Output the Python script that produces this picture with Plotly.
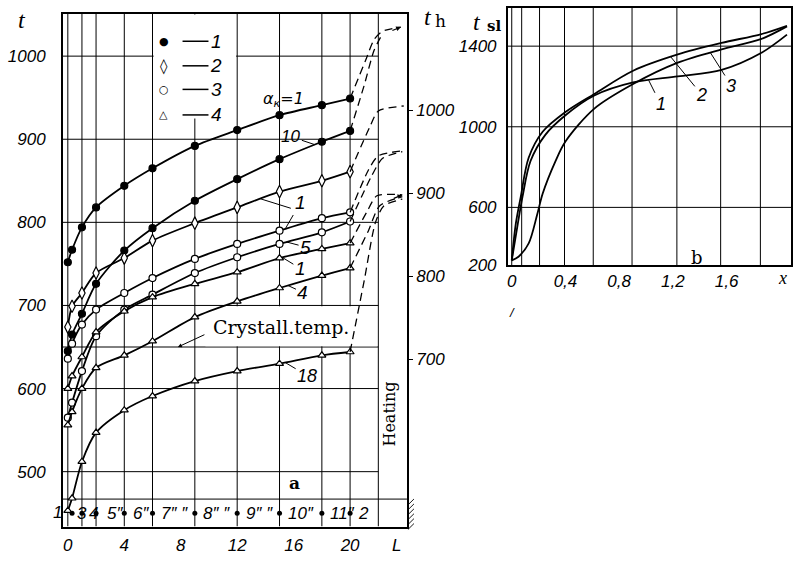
import numpy as np
import plotly.graph_objects as go

W, H = 793, 565
def PX(px): return px / W
def PY(py): return 1 - py / H

# ---------------- Panel a data ----------------
nodes = [0, 0.3, 1, 2, 4, 6, 9, 12, 15, 18, 20]
t_dot_a1 = [752, 767, 794, 818, 844, 865, 892, 911, 929, 941, 949]
t_dot_a10 = [645, 665, 690, 726, 766, 793, 826, 852, 876, 897, 910]
t_dia_a1 = [674, 699, 715, 739, 757, 778, 799, 818, 837, 850, 861]
t_circ_a1 = [636, 654, 677, 695, 715, 733, 756, 774, 790, 805, 812]
t_circ_a5 = [565, 583, 621, 663, 695, 713, 739, 758, 774, 788, 801]
t_tri_a1 = [600, 615, 638, 668, 693, 710, 726, 740, 757, 768, 775]
t_tri_a4 = [556, 572, 600, 625, 640, 657, 686, 705, 721, 736, 745]
t_tri_a18 = [453, 468, 512, 547, 574, 591, 609, 621, 630, 640, 644]

# heating (dashed) lines, in t_h units
heat_x = [[20, 21.1, 21.7, 22.3, 23.6], [20, 21.0, 21.7, 22.3],
          [20, 21.4, 22.0, 23.8], [20, 21.3, 22.0, 23.7],
          [20, 21.5, 22.3, 23.7], [20, 21.2, 21.9, 23.7],
          [20, 21.3, 22.1, 23.7], [20, 21.0, 21.8, 22.4, 23.7]]
heat_t = [[1014, 1060, 1085, 1095, 1100], [975, 1030, 1072, 1092],
          [926, 980, 999, 1005], [877, 928, 945, 951],
          [866, 920, 942, 950], [840, 878, 897, 898],
          [810, 855, 885, 896], [709, 795, 865, 885, 893]]

strip_nodes = [0.3, 1, 2, 4, 6, 9, 12, 15, 18, 20]
strip_labels = ["3", "4", "5″", "6″", "7″ ″", "8″ ″", "9″ ″", "10″", "11″", "2"]
strip_label_x = [0.5, 1.35, 2.6, 4.45, 6.45, 9.45, 12.45, 15.45, 18.4, 20.4]

xa_ticks = [0, 4, 8, 12, 16, 20, 23.3]
xa_text = ["0", "4", "8", "12", "16", "20", "L"]
ya_ticks = [500, 600, 700, 800, 900, 1000]
yh_ticks = [700, 800, 900, 1000]

# ---------------- Panel b data ----------------
xb1 = [0, 0.045, 0.08, 0.14, 0.25, 0.4, 0.615, 0.904, 1.237, 1.563, 1.86, 2.05]
tb1 = [337, 518, 652, 830, 960, 1057, 1155, 1220, 1250, 1282, 1367, 1457]
xb2 = [0, 0.03, 0.067, 0.126, 0.23, 0.4, 0.615, 0.904, 1.237, 1.563, 1.86, 2.05]
tb2 = [337, 518, 652, 846, 975, 1073, 1163, 1278, 1359, 1416, 1460, 1501]
xb3 = [0, 0.05, 0.126, 0.19, 0.23, 0.326, 0.4, 0.615, 0.904, 1.237, 1.563, 1.86, 2.05]
tb3 = [337, 355, 421, 566, 668, 830, 927, 1090, 1212, 1318, 1384, 1436, 1498]
xb_ticks = [0, 0.4, 0.8, 1.2, 1.6]
xb_text = ["0", "0,4", "0,8", "1,2", "1,6"]
yb_ticks = [313, 600, 1000, 1400]
yb_text = ["200", "600", "1000", "1400"]
xb_grid = [0, 0.074, 0.207, 0.393, 0.607, 0.896, 1.23, 1.556, 1.852]

# ---------------- ranges / domains ----------------
XA = [-0.353, 24.03]
YA = [434, 1051]
YH = [YA[0] + 65, YA[1] + 65]
XB = [-0.03, 2.08]
YB = [313, 1590]

fig = go.Figure()
LW = 1.8
black = "black"

def curve(x, y, sym, filled):
    fig.add_trace(go.Scatter(
        x=x, y=y, mode="lines+markers", xaxis="x", yaxis="y",
        line=dict(color=black, width=LW, shape="spline", smoothing=0.8),
        marker=dict(symbol=sym, size=7 if sym != "diamond-tall" else 9,
                    color=black if filled else "white",
                    line=dict(color=black, width=1.2)),
        showlegend=False, hoverinfo="skip"))

curve(nodes, t_dot_a1, "circle", True)
curve(nodes, t_dot_a10, "circle", True)
curve(nodes, t_dia_a1, "diamond-tall", False)
curve(nodes, t_circ_a1, "circle", False)
curve(nodes, t_circ_a5, "circle", False)
curve(nodes, t_tri_a1, "triangle-up", False)
curve(nodes, t_tri_a4, "triangle-up", False)
curve(nodes, t_tri_a18, "triangle-up", False)

for hx, ht in zip(heat_x, heat_t):
    fig.add_trace(go.Scatter(
        x=hx, y=ht, mode="lines", xaxis="x", yaxis="y2",
        line=dict(color=black, width=1.3, dash="8px,5px", shape="spline", smoothing=0.7),
        showlegend=False, hoverinfo="skip"))

# node dots in bottom strip
fig.add_trace(go.Scatter(
    x=strip_nodes, y=[450] * len(strip_nodes), mode="markers", xaxis="x", yaxis="y",
    marker=dict(size=5, color=black), showlegend=False, hoverinfo="skip"))

# panel b curves
for xb, tb in [(xb1, tb1), (xb2, tb2), (xb3, tb3)]:
    fig.add_trace(go.Scatter(
        x=xb, y=tb, mode="lines", xaxis="x2", yaxis="y3",
        line=dict(color=black, width=LW, shape="spline", smoothing=0.9),
        showlegend=False, hoverinfo="skip"))

shapes = []
def hline(x0, x1, y, xref="x", yref="y", w=1.0):
    shapes.append(dict(type="line", x0=x0, x1=x1, y0=y, y1=y, xref=xref, yref=yref,
                       line=dict(color=black, width=w), layer="below"))
def vline(x, y0, y1, xref="x", yref="y", w=1.0):
    shapes.append(dict(type="line", x0=x, x1=x, y0=y0, y1=y1, xref=xref, yref=yref,
                       line=dict(color=black, width=w), layer="below"))

# panel a grid
for gx in [0, 1, 2, 4, 6, 9, 12, 15, 18, 20, 22]:
    vline(gx, YA[0], YA[1])
for gt in [500, 600, 650, 700, 800, 900, 1000]:
    hline(XA[0], 22, gt)
hline(XA[0], XA[1], 467)
# white boxes (legend area, crystallisation label)
shapes.append(dict(type="rect", x0=6.08, x1=11.92, y0=925, y1=YA[1] - 1, xref="x", yref="y",
                   fillcolor="white", line=dict(width=0), layer="below"))
shapes.append(dict(type="rect", x0=9.75, x1=21.92, y0=651, y1=699, xref="x", yref="y",
                   fillcolor="white", line=dict(width=0), layer="below"))
# panel b grid
for gx in xb_grid:
    vline(gx, YB[0], YB[1], "x2", "y3")
for gt in [600, 1000, 1400]:
    hline(XB[0], XB[1], gt, "x2", "y3")

# legend line samples (paper coords)
leg_rows = [42, 67, 91, 117]
for py in leg_rows:
    shapes.append(dict(type="line", x0=PX(182), x1=PX(208), y0=PY(py), y1=PY(py),
                       xref="paper", yref="paper", line=dict(color=black, width=1.5)))
# hatch at support (bottom right)
for k in range(6):
    yy = 508 + k * 5
    shapes.append(dict(type="line", x0=PX(408), x1=PX(414), y0=PY(yy + 6), y1=PY(yy),
                       xref="paper", yref="paper", line=dict(color=black, width=0.9)))

ann = []
def fI(size, fam="Liberation Sans"): return dict(family=fam, size=size, style="italic", color=black)
ital = fI(17)

def note(text, px, py, font, **kw):
    d = dict(text=text, x=PX(px), y=PY(py), xref="paper", yref="paper",
             showarrow=False, font=font, xanchor="center", yanchor="middle")
    d.update(kw)
    ann.append(d)

def leader(text, xv, series_x, series_y, dx, dy, font=ital, xref="x", yref="y"):
    yv = float(np.interp(xv, series_x, series_y))
    ann.append(dict(text=text, x=xv, y=yv, xref=xref, yref=yref, ax=dx, ay=dy,
                    showarrow=True, arrowhead=0, arrowwidth=1, arrowcolor=black,
                    standoff=0, font=font))

# legend glyphs and numbers
for py, g, n in zip(leg_rows, ["●", "◊", "○", "△"], ["1", "2", "3", "4"]):
    note(g, 163, py, dict(family="DejaVu Sans", size=11 if g != "◊" else 15, color=black))
    note(n, 216, py, fI(19))

# curve labels panel a
note("α<sub>к</sub>=1", 283, 101, fI(16, "DejaVu Sans"))
leader("10", 17.5, nodes, t_dot_a10, -24, -8, fI(17))
leader("1", 15.4, nodes, t_circ_a1, 15, -26, fI(19))
leader("", 13.64, nodes, t_dia_a1, 32, 10)
leader("5", 15.5, nodes, t_circ_a5, 19, 5, fI(19))
leader("1", 15.2, nodes, t_tri_a1, 18, 11, fI(19))
leader("4", 15.6, nodes, t_tri_a4, 15, 7, fI(19))
leader("18", 15.4, nodes, t_tri_a18, 22, 13, fI(18))

# crystallisation label and arrow
note("Crystall.temp.", 281, 333, dict(family="DejaVu Serif", size=19, color=black))
ann.append(dict(text="", x=7.8, y=650, xref="x", yref="y", ax=28, ay=-13,
                showarrow=True, arrowhead=2, arrowsize=0.8, arrowwidth=1, arrowcolor=black, standoff=0))
# heating arrows
ann.append(dict(text="", x=heat_x[0][-1], y=heat_t[0][-1], xref="x", yref="y2", ax=-10, ay=4,
                showarrow=True, arrowhead=2, arrowsize=0.8, arrowwidth=1.2, arrowcolor=black, standoff=0))
ann.append(dict(text="", x=heat_x[5][-1], y=heat_t[5][-1], xref="x", yref="y2", ax=-10, ay=4,
                showarrow=True, arrowhead=2, arrowsize=0.8, arrowwidth=1.2, arrowcolor=black, standoff=0))

note("Heating", 390, 422, dict(family="DejaVu Serif", size=16, color=black), textangle=-90)
note("<b>a</b>", 294, 492, dict(family="DejaVu Serif", size=17, color=black))
note("1", 57, 522, fI(17))
for lab, lx in zip(strip_labels, strip_label_x):
    ann.append(dict(text=lab, x=lx, y=450, xref="x", yref="y", showarrow=False,
                    font=fI(17), xanchor="left"))

# axis titles
note("t", 21, 20, dict(family="Liberation Serif", size=24, style="italic", color=black))
note("t", 428, 17, dict(family="Liberation Serif", size=24, style="italic", color=black))
note("h", 441, 21, dict(family="DejaVu Serif", size=17, color=black))
note("t", 477, 22, dict(family="Liberation Serif", size=24, style="italic", color=black))
note("<b>sl</b>", 494, 26, dict(family="DejaVu Serif", size=15, color=black))
note("/", 512, 318, fI(13))
note("x", 783, 283, fI(18, "Liberation Serif"))

# panel b labels
fb = fI(18)
leader("1", 1.02, xb1, tb1, 12, 24, fb, "x2", "y3")
leader("2", 1.185, xb2, tb2, 31, 38, fb, "x2", "y3")
leader("3", 1.48, xb3, tb3, 21, 33, fb, "x2", "y3")
note("b", 698, 262, dict(family="DejaVu Serif", size=18, color=black))

tickf = fI(17)
axline = dict(showline=True, linecolor=black, linewidth=1.5, showgrid=False, zeroline=False)

fig.update_layout(
    width=W, height=H, margin=dict(l=0, r=0, t=0, b=0),
    paper_bgcolor="white", plot_bgcolor="white",
    shapes=shapes, annotations=ann,
    xaxis=dict(domain=[PX(62), PX(407)], range=XA, anchor="y", mirror=True,
               tickvals=xa_ticks, ticktext=xa_text, tickfont=tickf, ticks="",
               ticklabelstandoff=2, **axline),
    yaxis=dict(domain=[PY(536), PY(14)], range=YA, anchor="x", mirror=True,
               tickvals=ya_ticks, tickfont=tickf, ticks="", ticklabelstandoff=12, **axline),
    yaxis2=dict(range=YH, overlaying="y", side="right", anchor="x",
                tickvals=yh_ticks, tickfont=tickf, ticks="outside", ticklen=5,
                tickcolor=black, ticklabelstandoff=0, showgrid=False, zeroline=False,
                showline=False),
    xaxis2=dict(domain=[PX(508), PX(792)], range=XB, anchor="y3", mirror=True,
                tickvals=xb_ticks, ticktext=xb_text, tickfont=tickf, ticks="",
                ticklabelstandoff=0, **axline),
    yaxis3=dict(domain=[PY(270), PY(8)], range=YB, anchor="x2", mirror=True,
                tickvals=yb_ticks, ticktext=yb_text, tickfont=tickf, ticks="",
                ticklabelstandoff=6, **axline),
)

fig.write_html("out.html", config={"displayModeBar": False},
               post_script="document.body.style.margin='0';document.body.style.overflow='hidden';")
